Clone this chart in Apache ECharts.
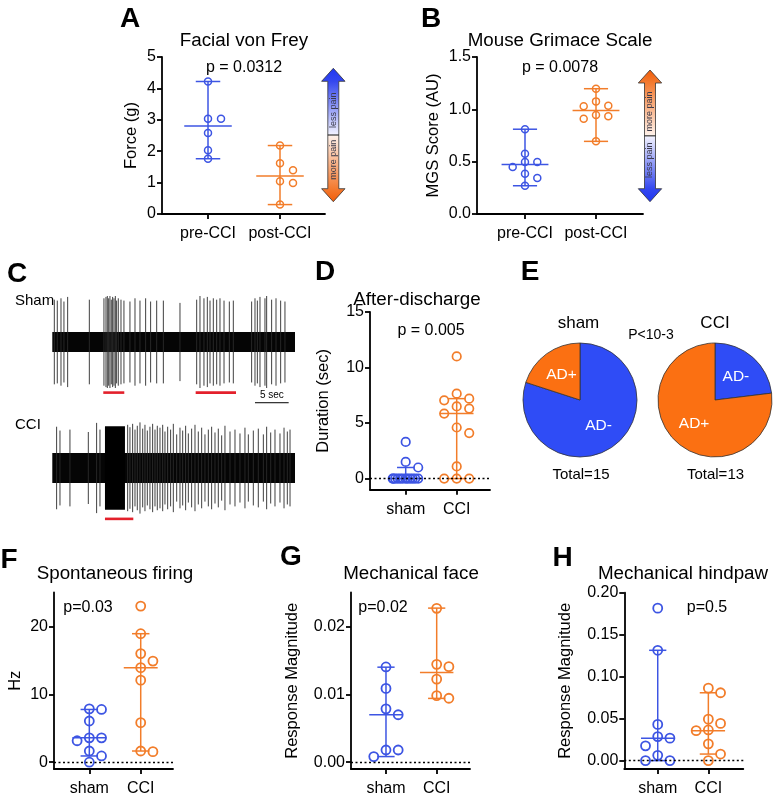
<!DOCTYPE html>
<html><head><meta charset="utf-8">
<script src="https://cdn.jsdelivr.net/npm/echarts@6/dist/echarts.min.js"></script>
<style>html,body{margin:0;padding:0;background:#fff}#c{width:780px;height:797px}</style>
</head><body><div id="c"></div>
<script>
const FONT = '"Liberation Sans", Arial, Helvetica, sans-serif';
const BLUE = '#3d55e3', ORANGE = '#f27d2a';
const PIE_BLUE = '#2f4cf6', PIE_ORANGE = '#fb7012';

// ---------- DATA ----------
const catsPrePost = ['pre-CCI', 'post-CCI'];
const catsShamCCI = ['sham', 'CCI'];

// A: Facial von Frey (g)
const vonFreyPre  = [4.22, 3.03, 3.03, 2.58, 2.03, 1.76];
const vonFreyPost = [2.18, 1.62, 1.39, 1.04, 0.99, 0.30];
const vonFreyMedian = [2.8, 1.21];
const vonFreyLow    = [1.76, 0.30];
const vonFreyHigh   = [4.22, 2.18];
const vonFreyTicks  = [0, 1, 2, 3, 4, 5];

// B: Mouse Grimace Scale
const mgsPre  = [0.81, 0.576, 0.497, 0.497, 0.449, 0.385, 0.344, 0.27];
const mgsPost = [1.197, 1.076, 1.035, 1.029, 0.946, 0.933, 0.911, 0.694];
const mgsMedian = [0.473, 0.988];
const mgsLow    = [0.27, 0.694];
const mgsHigh   = [0.81, 1.197];
const mgsTicks  = [0, 0.5, 1.0, 1.5];

// C: raw traces (spike times in s, relative amplitudes)
const traceDuration = 36.04;
const shamSpikeT = [0.30,0.74,1.29,1.73,2.28,5.50,7.67,7.97,8.17,8.37,8.56,8.76,8.96,9.16,9.36,9.55,9.80,10.20,10.64,11.53,12.28,13.02,13.86,14.60,15.50,16.49,18.96,21.44,21.93,22.52,23.02,23.42,23.91,24.41,24.90,25.50,26.29,26.88,29.60,30.10,30.45,30.84,31.58,31.83,32.57,33.22,33.91,34.55];
const shamSpikeA = [0.92,0.9,0.95,0.88,0.98,0.92,0.95,0.98,1,0.95,1,0.92,0.98,0.95,1,0.9,0.95,0.92,0.9,0.88,0.95,0.9,0.95,0.88,0.9,0.9,0.85,0.92,1,0.95,0.98,0.9,0.95,0.92,0.95,0.9,0.88,0.9,0.88,0.95,0.9,0.98,0.95,1,0.92,0.95,0.9,0.88];
const cciSpikeT = [0.64,1.14,2.62,5.35,6.58,7.08,11.19,11.53,11.93,12.28,12.62,13.02,13.42,13.76,14.11,14.50,14.90,15.25,15.59,15.99,16.39,16.73,17.13,17.57,17.97,18.47,18.96,19.36,19.80,20.20,20.69,21.19,21.68,22.18,22.67,23.17,23.66,24.16,24.65,25.15,25.64,26.39,27.13,27.87,28.61,29.11,29.85,30.59,31.34,31.83,32.43,33.07,33.81,34.41,34.90,35.30];
const cciSpikeA = [0.86,0.78,0.8,0.75,0.94,0.8,0.9,0.85,0.92,0.8,0.88,0.95,0.82,0.9,0.78,0.86,0.92,0.8,0.88,0.84,0.9,0.76,0.86,0.8,0.92,0.7,0.84,0.78,0.88,0.72,0.82,0.9,0.76,0.84,0.7,0.8,0.86,0.74,0.82,0.68,0.88,0.76,0.8,0.72,0.84,0.7,0.78,0.82,0.7,0.86,0.74,0.8,0.72,0.84,0.76,0.8];
const shamNoise = 0.22, cciNoise = 0.31;
const cciBursts = [[7.82, 10.79, 0.87]];
const shamStim = [[7.57, 10.69], [21.29, 27.28]];
const cciStim  = [[7.82, 12.03]];
const scaleBar = [30.1, 35.1];

// D: After-discharge duration (s)
const adSham = [3.3, 1.5, 1.0, 0, 0, 0, 0, 0, 0, 0, 0, 0, 0, 0, 0];
const adCCI  = [11, 7.65, 7.2, 7.05, 6.5, 6.3, 5.85, 4.6, 4.1, 1.1, 0, 0, 0];
const adMedian = [0, 5.85];
const adLow    = [0, 0];
const adHigh   = [1.0, 7.2];
const adTicks  = [0, 5, 10, 15];

// E: AD- / AD+ counts derived from D
const pieLabels = ['AD-', 'AD+'];
const pieSham = [adSham.filter(v => v === 0).length, adSham.filter(v => v > 0).length];
const pieCCI  = [adCCI.filter(v => v === 0).length, adCCI.filter(v => v > 0).length];

// F: Spontaneous firing (Hz)
const spontSham = [7.86, 7.77, 6.07, 3.59, 3.59, 3.16, 1.65, 0.92, 0];
const spontCCI  = [23, 18.93, 16, 14.9, 13.93, 12.09, 5.83, 1.65, 1.55];
const spontMedian = [3.59, 13.93];
const spontLow    = [0.92, 1.65];
const spontHigh   = [7.77, 18.93];
const spontTicks  = [0, 10, 20];

// G: Mechanical face
const faceSham = [0.01403, 0.01087, 0.00786, 0.00699, 0.0018, 0.0018, 0.00083];
const faceCCI  = [0.02267, 0.01442, 0.01408, 0.01223, 0.0098, 0.00942];
const faceMedian = [0.007, 0.0132];
const faceLow    = [0.00083, 0.0094];
const faceHigh   = [0.014, 0.0227];
const faceTicks  = [0, 0.01, 0.02];

// H: Mechanical hindpaw
const pawSham = [0.1816, 0.1314, 0.0431, 0.0286, 0.0267, 0.0176, 0.0063, 0, 0];
const pawCCI  = [0.0863, 0.0808, 0.0494, 0.0443, 0.0365, 0.0357, 0.02, 0.0078, 0];
const pawMedian = [0.0267, 0.0357];
const pawLow    = [0, 0.0078];
const pawHigh   = [0.1314, 0.0808];
const pawTicks  = [0, 0.05, 0.10, 0.15, 0.20];

// ---------- BUILD ----------
const grids = [], xAxes = [], yAxes = [], series = [], graphics = [];

// greedy beeswarm (pixel space), returns x offsets in px
function swarm(vals, pxY, step, coll, maxHalf) {
  const idx = vals.map((v, i) => i).sort((a, b) => vals[b] - vals[a]);
  const placed = [], off = new Array(vals.length).fill(0);
  const cands = [0];
  for (let k = 1; k <= 6; k++) cands.push(k * step, -k * step);
  idx.forEach(i => {
    const y = vals[i] * pxY;
    const ok = x => placed.every(p => Math.hypot(p.x - x, p.y - y) >= coll);
    let x = cands.find(c => Math.abs(c) <= maxHalf + 0.01 && ok(c));
    if (x === undefined) {
      let best = 0, bestD = -1;
      for (let c = -maxHalf; c <= maxHalf + 0.01; c += step / 5) {
        const d = Math.min(...placed.map(p => Math.hypot(p.x - c, p.y - y)));
        if (d > bestD + 0.01) { bestD = d; best = c; }
      }
      x = best;
    }
    placed.push({x, y}); off[i] = x;
  });
  return off;
}

function summaryRender(params, api) {
  const c = api.value(0), m = api.value(1), lo = api.value(2), hi = api.value(3);
  const u = api.size([1, 0])[0];
  const pm = api.coord([c, m]), pl = api.coord([c, lo]), ph = api.coord([c, hi]);
  const col = params.dataIndex === 0 ? BLUE : ORANGE;
  const st = {stroke: col, lineWidth: 1.5};
  const mw = u * 0.33, cw = u * 0.17;
  return {type: 'group', children: [
    {type: 'line', shape: {x1: pl[0], y1: pl[1], x2: ph[0], y2: ph[1]}, style: st},
    {type: 'line', shape: {x1: pl[0] - cw, y1: pl[1], x2: pl[0] + cw, y2: pl[1]}, style: st},
    {type: 'line', shape: {x1: ph[0] - cw, y1: ph[1], x2: ph[0] + cw, y2: ph[1]}, style: st},
    {type: 'line', shape: {x1: pm[0] - mw, y1: pm[1], x2: pm[0] + mw, y2: pm[1]}, style: st}
  ]};
}

function dotPanel(p) {
  const gi = grids.length;
  grids.push({left: p.left, top: p.top, width: p.width, height: p.height});
  const pxX = p.width / (p.xmax - p.xmin), pxY = p.height / (p.ymax - p.ymin);
  const axisLine = {show: true, onZero: false, lineStyle: {color: '#000', width: 1.8}};
  xAxes.push({gridIndex: gi, type: 'value', min: p.xmin, max: p.xmax, splitLine: {show: false},
    axisLine, axisTick: {show: true, customValues: [0, 1], length: 5, lineStyle: {color: '#000', width: 1.8}},
    axisLabel: {customValues: [0, 1], formatter: v => p.cats[Math.round(v)], color: '#000', fontSize: 16, fontFamily: FONT, margin: 12}});
  yAxes.push({gridIndex: gi, type: 'value', min: p.ymin, max: p.ymax, splitLine: {show: false},
    axisLine, axisTick: {show: true, customValues: p.ticks, length: 5, lineStyle: {color: '#000', width: 1.8}},
    axisLabel: {customValues: p.ticks, formatter: v => Number(v).toFixed(p.dec), color: '#000', fontSize: 16, fontFamily: FONT, margin: 6},
    name: p.name, nameLocation: 'middle', nameGap: p.nameGap,
    nameTextStyle: {color: '#000', fontSize: 16.5, fontFamily: FONT}});
  series.push({type: 'custom', xAxisIndex: gi, yAxisIndex: gi, silent: true, z: 2,
    data: p.med.map((m, i) => [i, m, p.lo[i], p.hi[i]]), renderItem: summaryRender});
  p.groups.forEach((vals, g) => {
    const off = swarm(vals, pxY, p.step, p.coll, p.maxHalf);
    const s = {type: 'scatter', xAxisIndex: gi, yAxisIndex: gi, silent: true, z: 3,
      symbol: 'circle', symbolSize: p.size,
      itemStyle: {color: 'rgba(0,0,0,0)', borderColor: g ? ORANGE : BLUE, borderWidth: p.bw, opacity: 1},
      data: vals.map((v, i) => [g + off[i] / pxX, v])};
    if (g === 0 && p.zeroLine) {
      s.markLine = {silent: true, symbol: 'none', label: {show: false}, animation: false,
        lineStyle: {type: [2, 2.5], color: '#000', width: 1.3}, data: [{yAxis: 0}]};
    }
    series.push(s);
  });
}

dotPanel({left: 162, top: 57, width: 163, height: 157, xmin: -0.639, xmax: 1.625, ymin: 0, ymax: 5,
  ticks: vonFreyTicks, dec: 0, cats: catsPrePost, name: 'Force (g)', nameGap: 22,
  groups: [vonFreyPre, vonFreyPost], med: vonFreyMedian, lo: vonFreyLow, hi: vonFreyHigh,
  size: 7, bw: 1.5, step: 13, coll: 8, maxHalf: 26});
dotPanel({left: 477, top: 57, width: 166, height: 157, xmin: -0.676, xmax: 1.662, ymin: 0, ymax: 1.5,
  ticks: mgsTicks, dec: 1, cats: catsPrePost, name: 'MGS Score (AU)', nameGap: 35,
  groups: [mgsPre, mgsPost], med: mgsMedian, lo: mgsLow, hi: mgsHigh,
  size: 7, bw: 1.5, step: 12.3, coll: 8, maxHalf: 26});
dotPanel({left: 370, top: 312, width: 120, height: 177.7, xmin: -0.70, xmax: 1.653, ymin: -1, ymax: 15,
  ticks: adTicks, dec: 0, cats: catsShamCCI, name: 'Duration (sec)', nameGap: 38,
  groups: [adSham, adCCI], med: adMedian, lo: adLow, hi: adHigh, zeroLine: true,
  size: 8.5, bw: 1.7, step: 12.5, coll: 9.6, maxHalf: 13});
dotPanel({left: 54, top: 592.5, width: 119, height: 178.5, xmin: -0.687, xmax: 1.628, ymin: -1, ymax: 25,
  ticks: spontTicks, dec: 0, cats: catsShamCCI, name: 'Hz', nameGap: 30,
  groups: [spontSham, spontCCI], med: spontMedian, lo: spontLow, hi: spontHigh, zeroLine: true,
  size: 9, bw: 1.8, step: 12.2, coll: 10.8, maxHalf: 25});
dotPanel({left: 351, top: 592.5, width: 119, height: 178.5, xmin: -0.69, xmax: 1.657, ymin: -0.001, ymax: 0.025,
  ticks: faceTicks, dec: 2, cats: catsShamCCI, name: 'Response Magnitude', nameGap: 50,
  groups: [faceSham, faceCCI], med: faceMedian, lo: faceLow, hi: faceHigh, zeroLine: true,
  size: 9, bw: 1.8, step: 12.2, coll: 10.8, maxHalf: 25});
dotPanel({left: 624.3, top: 592.7, width: 119, height: 178.5, xmin: -0.66, xmax: 1.69, ymin: -0.01, ymax: 0.2,
  ticks: pawTicks, dec: 2, cats: catsShamCCI, name: 'Response Magnitude', nameGap: 50,
  groups: [pawSham, pawCCI], med: pawMedian, lo: pawLow, hi: pawHigh, zeroLine: true,
  size: 9, bw: 1.8, step: 12.2, coll: 10.8, maxHalf: 25});

// ---------- C: traces ----------
function tracePanel(t) {
  const gi = grids.length;
  grids.push({left: t.left, top: t.top, width: t.width, height: t.height});
  xAxes.push({gridIndex: gi, type: 'value', min: 0, max: traceDuration, show: false});
  yAxes.push({gridIndex: gi, type: 'value', min: t.ymin, max: 1, show: false});
  const base = {type: 'custom', xAxisIndex: gi, yAxisIndex: gi, silent: true, clip: false};
  // noise band
  series.push(Object.assign({}, base, {z: 2, data: [[0, traceDuration, t.noise]], renderItem: (pa, api) => {
    const a = api.coord([api.value(0), api.value(2)]), b = api.coord([api.value(1), -api.value(2)]);
    return {type: 'rect', shape: {x: a[0], y: a[1], width: b[0] - a[0], height: b[1] - a[1]}, style: {fill: '#050505'}};
  }}));
  // bursts
  if (t.bursts) series.push(Object.assign({}, base, {z: 3, data: t.bursts, renderItem: (pa, api) => {
    const a = api.coord([api.value(0), api.value(2)]), b = api.coord([api.value(1), -api.value(2)]);
    return {type: 'rect', shape: {x: a[0], y: a[1], width: b[0] - a[0], height: b[1] - a[1]}, style: {fill: '#000'}};
  }}));
  // spikes
  series.push(Object.assign({}, base, {z: 3, data: t.spikes.map((s, i) => [s, t.amps[i]]), renderItem: (pa, api) => {
    const a = api.coord([api.value(0), api.value(1)]), b = api.coord([api.value(0), -api.value(1)]);
    return {type: 'line', shape: {x1: a[0], y1: a[1], x2: b[0], y2: b[1]}, style: {stroke: '#2a2a2a', lineWidth: 0.9}};
  }}));
  // stimulus bars
  series.push(Object.assign({}, base, {z: 3, data: t.stim, renderItem: (pa, api) => {
    const a = api.coord([api.value(0), t.stimY]), b = api.coord([api.value(1), t.stimY]);
    return {type: 'line', shape: {x1: a[0], y1: a[1], x2: b[0], y2: b[1]}, style: {stroke: '#e3202b', lineWidth: 2.6}};
  }}));
  if (t.scale) series.push(Object.assign({}, base, {z: 3, data: [t.scale], renderItem: (pa, api) => {
    const a = api.coord([api.value(0), t.scaleY]), b = api.coord([api.value(1), t.scaleY]);
    const secs = api.value(1) - api.value(0);
    return {type: 'group', children: [
      {type: 'line', shape: {x1: a[0], y1: a[1], x2: b[0], y2: b[1]}, style: {stroke: '#000', lineWidth: 1}},
      {type: 'text', x: (a[0] + b[0]) / 2, y: a[1] - 2, style: {text: Math.round(secs) + ' sec', fill: '#000',
        font: '10px ' + FONT, align: 'center', verticalAlign: 'bottom', textAlign: 'center', textVerticalAlign: 'bottom'}}
    ]};
  }}));
}
tracePanel({left: 52.3, top: 296, width: 242.7, height: 108.1, ymin: -1.35, noise: shamNoise,
  spikes: shamSpikeT, amps: shamSpikeA, stim: shamStim, stimY: -1.1, scale: scaleBar, scaleY: -1.32});
tracePanel({left: 52.3, top: 420, width: 242.7, height: 100.8, ymin: -1.1, noise: cciNoise,
  spikes: cciSpikeT, amps: cciSpikeA, bursts: cciBursts, stim: cciStim, stimY: -1.06});

// ---------- E: pies ----------
function pie(center, counts) {
  series.push({type: 'pie', center, radius: 57, startAngle: 90, clockwise: true, silent: true,
    label: {show: true, position: 'inside', formatter: '{b}', color: '#fff', fontSize: 15.5, fontFamily: FONT},
    labelLine: {show: false}, emphasis: {disabled: true},
    itemStyle: {borderColor: '#333', borderWidth: 0.8},
    data: counts.map((v, i) => ({name: pieLabels[i], value: v, itemStyle: {color: i ? PIE_ORANGE : PIE_BLUE}}))});
}
pie([580, 400], pieSham);
pie([715, 400], pieCCI);

// ---------- texts ----------
function T(text, x, y, size, opts) {
  opts = opts || {};
  graphics.push({type: 'text', x, y, rotation: opts.rot || 0, silent: true, style: {
    text, fill: opts.fill || '#000', font: (opts.bold ? 'bold ' : '') + size + 'px ' + FONT,
    align: opts.align || 'center', verticalAlign: 'middle', textAlign: opts.align || 'center', textVerticalAlign: 'middle'}});
}
[['A', 130, 19], ['B', 431, 19], ['C', 17, 274], ['D', 325, 272], ['E', 530, 272],
 ['F', 9, 560], ['G', 291, 557], ['H', 562.5, 558]].forEach(a => T(a[0], a[1], a[2], 28, {bold: true}));
T('Facial von Frey', 244, 41, 18.8);
T('Mouse Grimace Scale', 560, 41, 18.8);
T('After-discharge', 417, 300, 18.8);
T('Spontaneous firing', 115, 574, 18.8);
T('Mechanical face', 411, 574, 18.8);
T('Mechanical hindpaw', 683, 574, 18.8);
T('p = 0.0312', 244, 68, 16);
T('p = 0.0078', 560, 68, 16);
T('p = 0.005', 431, 331, 16);
T('p=0.03', 88, 608, 16);
T('p=0.02', 383, 608, 16);
T('p=0.5', 707, 608, 16);
T('sham', 578.5, 323.5, 17);
T('CCI', 715, 323, 17);
T('P<10-3', 651, 335, 14);
T('Total=' + pieSham.reduce((a, b) => a + b, 0), 581, 475, 15);
T('Total=' + pieCCI.reduce((a, b) => a + b, 0), 715.5, 475, 15);
T('Sham', 15, 301, 15, {align: 'left'});
T('CCI', 15, 425, 15, {align: 'left'});

// ---------- pain arrows ----------
function painArrow(cx, topY, botY, topIsBlue, topText, bottomText) {
  const hw = 11.7, sw = 5.5, hh = 13, mid = (topY + botY) / 2;
  const hb1 = topY + hh, hb2 = botY - hh;
  const pts = [[cx, topY], [cx + hw, hb1], [cx + sw, hb1], [cx + sw, hb2], [cx + hw, hb2], [cx, botY],
               [cx - hw, hb2], [cx - sw, hb2], [cx - sw, hb1], [cx - hw, hb1]];
  const blueEnd = [{c: '#1f37f2'}, {c: '#3447ef'}, {c: '#f4f4ff'}];
  const orangeEnd = [{c: '#f15c08'}, {c: '#f37a30'}, {c: '#fff3ec'}];
  const top = topIsBlue ? blueEnd : orangeEnd, bot = topIsBlue ? orangeEnd : blueEnd;
  const stops = [
    {offset: 0, color: top[0].c}, {offset: 0.1, color: top[1].c}, {offset: 0.5, color: top[2].c},
    {offset: 0.5, color: bot[2].c}, {offset: 0.9, color: bot[1].c}, {offset: 1, color: bot[0].c}];
  graphics.push({type: 'polygon', silent: true, shape: {points: pts},
    style: {fill: new echarts.graphic.LinearGradient(0, 0, 0, 1, stops), stroke: '#333', lineWidth: 0.8}});
  graphics.push({type: 'line', silent: true, shape: {x1: cx - sw, y1: mid, x2: cx + sw, y2: mid}, style: {stroke: '#111', lineWidth: 1}});
  const fs = {fill: '#3a3a4a', font: '9px ' + FONT, align: 'center', verticalAlign: 'middle', textAlign: 'center', textVerticalAlign: 'middle'};
  graphics.push({type: 'text', silent: true, x: cx, y: (hb1 + mid) / 2 + 2, rotation: Math.PI / 2, style: Object.assign({text: topText}, fs)});
  graphics.push({type: 'text', silent: true, x: cx, y: (mid + hb2) / 2 - 2, rotation: Math.PI / 2, style: Object.assign({text: bottomText}, fs)});
}
painArrow(333.3, 68.3, 201.7, true, 'less pain', 'more pain');
painArrow(650, 70, 201.7, false, 'more pain', 'less pain');

const chart = echarts.init(document.getElementById('c'), null, {renderer: 'canvas'});
chart.setOption({
  animation: false,
  backgroundColor: '#fff',
  textStyle: {fontFamily: FONT},
  grid: grids, xAxis: xAxes, yAxis: yAxes, series, graphic: graphics
});
</script></body></html>
